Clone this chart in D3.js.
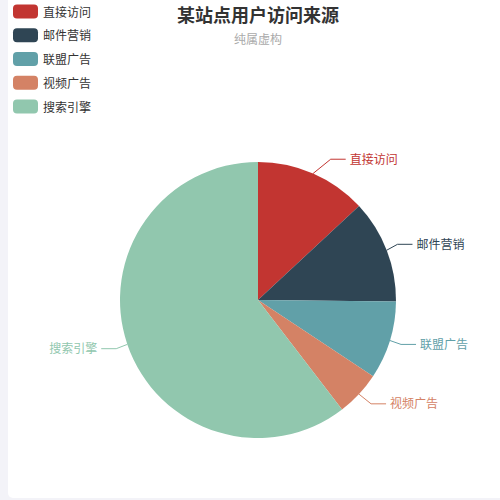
<!DOCTYPE html>
<html>
<head>
<meta charset="utf-8">
<script src="https://cdn.jsdelivr.net/npm/d3@7/dist/d3.min.js"></script>
<style>
  html, body { margin: 0; padding: 0; background: #f3f3f8; }
  #chart { position: absolute; left: 8px; top: 0; width: 492px; height: 498px;
           background: #fff; border-radius: 0 0 0 5px; overflow: hidden; }
  svg { display: block; }
</style>
</head>
<body>
<div id="chart"></div>
<script>
/* data */
const categories = ['直接访问', '邮件营销', '联盟广告', '视频广告', '搜索引擎'];
const values     = [335, 310, 234, 135, 1548];
const colors     = ['#c23531', '#2f4554', '#61a0a8', '#d48265', '#91c7ae'];
const titleText    = '某站点用户访问来源';
const subtitleText = '纯属虚构';

const W = 492, H = 498;
const cx = 250, cy = 300, R = 138;
const len = 15, len2 = 15;
const font = '"Noto Sans CJK SC", "Noto Sans", sans-serif';

const svg = d3.select('#chart').append('svg')
  .attr('width', W).attr('height', H);

/* title */
svg.append('text')
  .attr('x', cx).attr('y', 13.5)
  .attr('text-anchor', 'middle').attr('dominant-baseline', 'central')
  .attr('font-family', font).attr('font-size', 18).attr('font-weight', 'bold')
  .attr('fill', '#333').text(titleText);

svg.append('text')
  .attr('x', cx).attr('y', 38.5)
  .attr('text-anchor', 'middle').attr('dominant-baseline', 'central')
  .attr('font-family', font).attr('font-size', 12)
  .attr('fill', '#aaa').text(subtitleText);

/* legend */
const legend = svg.append('g').selectAll('g')
  .data(categories)
  .join('g')
  .attr('transform', (d, i) => `translate(5, ${4.5 + i * 23.75})`);

legend.append('rect')
  .attr('width', 25).attr('height', 14).attr('rx', 4).attr('ry', 4)
  .attr('fill', (d, i) => colors[i]);

legend.append('text')
  .attr('x', 30).attr('y', 6.5)
  .attr('dominant-baseline', 'central')
  .attr('font-family', font).attr('font-size', 12)
  .attr('fill', '#333').text(d => d);

/* pie */
const pie = d3.pie().sort(null).value(d => d);
const arcs = pie(values);
const arc = d3.arc().innerRadius(0).outerRadius(R);

const g = svg.append('g').attr('transform', `translate(${cx},${cy})`);

g.selectAll('path.slice')
  .data(arcs)
  .join('path')
  .attr('class', 'slice')
  .attr('d', arc)
  .attr('fill', (d, i) => colors[i]);

/* labels, laid out like echarts' outside labels */
const labels = arcs.map((d, i) => {
  const mid = (d.startAngle + d.endAngle) / 2;
  const dx = Math.sin(mid), dy = -Math.cos(mid);
  const dir = dx < 0 ? -1 : 1;
  const p1 = [R * dx, R * dy];
  const ey = (R + len) * dy - 0.5;
  const ex = dir * Math.sqrt((R + len + len2) ** 2 - ey * ey);
  const lineEnd = ex - dir * 4;
  return {
    name: categories[i], color: colors[i], dir,
    points: [p1, [lineEnd - dir * len2, ey], [lineEnd, ey]],
    tx: ex, ty: ey - 1
  };
});

g.selectAll('path.line')
  .data(labels)
  .join('path')
  .attr('class', 'line')
  .attr('d', d => d3.line()(d.points))
  .attr('fill', 'none')
  .attr('stroke', d => d.color)
  .attr('stroke-width', 1);

g.selectAll('text.label')
  .data(labels)
  .join('text')
  .attr('class', 'label')
  .attr('x', d => d.tx).attr('y', d => d.ty)
  .attr('text-anchor', d => d.dir < 0 ? 'end' : 'start')
  .attr('dominant-baseline', 'central')
  .attr('font-family', font).attr('font-size', 12)
  .attr('fill', d => d.color)
  .text(d => d.name);
</script>
</body>
</html>
